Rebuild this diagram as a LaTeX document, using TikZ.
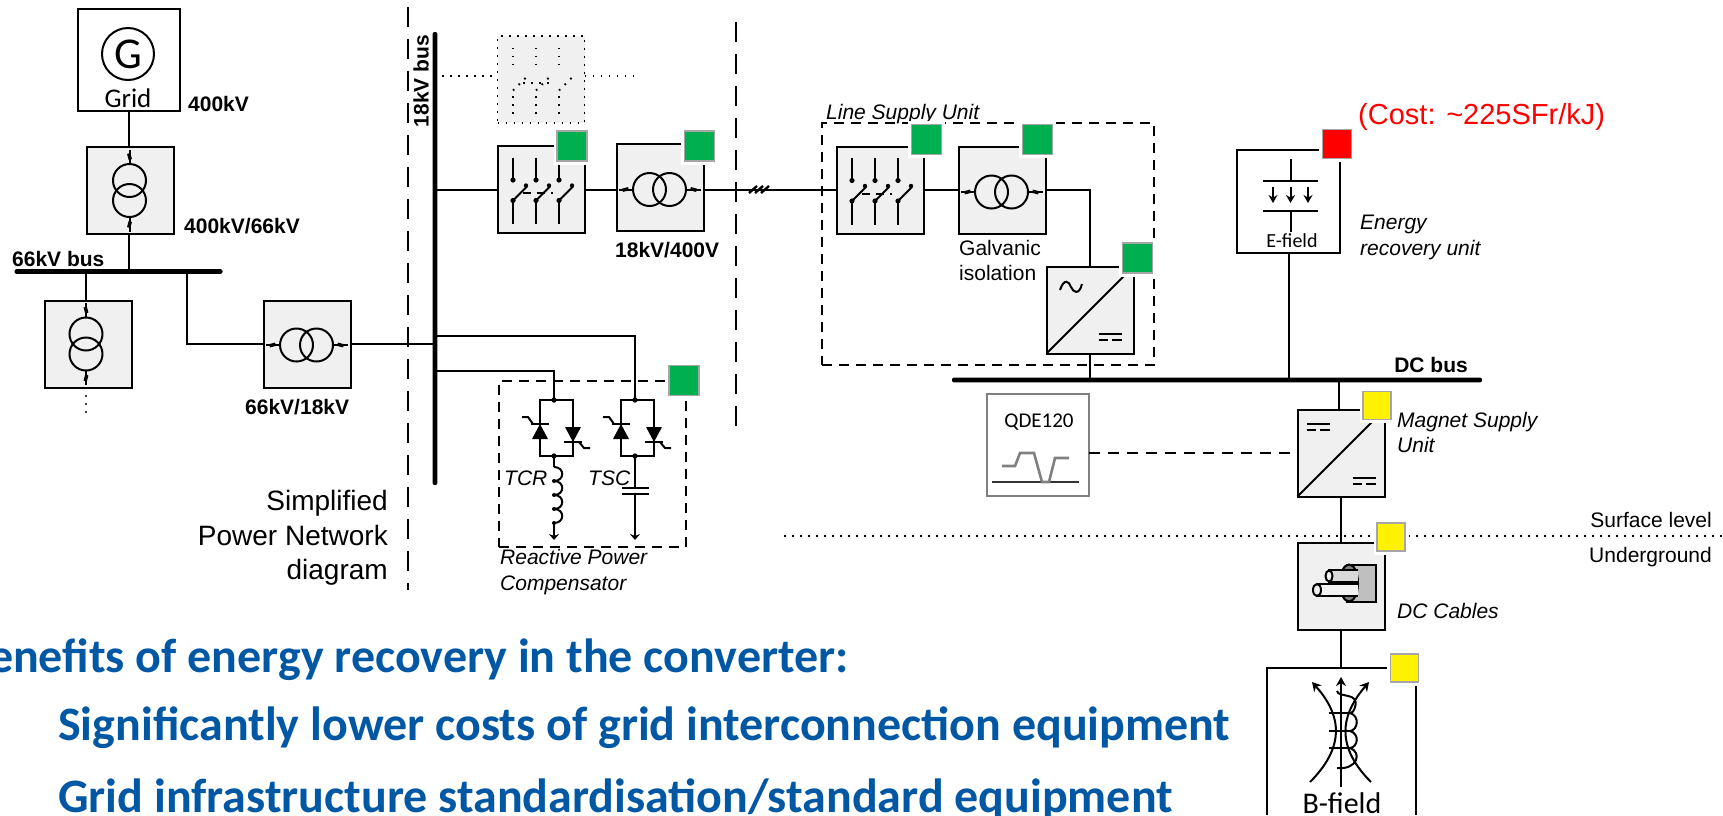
\documentclass[tikz,border=0pt]{standalone}
\usepackage{xcolor}
\usepackage{fontspec}
\setmainfont{Liberation Sans}
\newfontfamily\carlito{Carlito}
\usetikzlibrary{arrows.meta,positioning,calc}

\definecolor{boxgray}{HTML}{F0F0F0}
\definecolor{tagedge}{HTML}{A6A6A6}
\definecolor{taggreen}{HTML}{00B050}
\definecolor{slideblue}{HTML}{0057A4}

\tikzset{
    wire/.style={line width=2pt},
    unitbox/.style={draw, line width=2pt, fill=boxgray, minimum size=87pt, inner sep=0pt, outer sep=0pt},
    plainbox/.style={draw, line width=2pt, fill=white, minimum size=102pt, inner sep=0pt, outer sep=0pt},
    busbar/.style={fill=black, rounded corners=2pt, inner sep=0pt, outer sep=0pt},
    statustag/.style={draw=tagedge, line width=1.6pt, fill=#1, minimum size=28pt, inner sep=0pt, outer sep=0pt,
        preaction={draw=white, line width=7pt}},
    sepline/.style={line width=2.2pt, dash pattern=on 20pt off 12pt},
    areabox/.style={line width=2pt, dash pattern=on 10pt off 7pt},
    ctrlline/.style={line width=2pt, dash pattern=on 11pt off 8pt},
    dotline/.style={line width=1.7pt, dash pattern=on 1.7pt off 6.3pt},
    txt/.style={inner sep=0pt, font=\fontsize{21}{25.5}\selectfont},
    txtit/.style={inner sep=0pt, font=\fontsize{21}{25.5}\selectfont\itshape},
    txtbf/.style={inner sep=0pt, font=\fontsize{21}{25}\selectfont\bfseries},
    slidetxt/.style={inner sep=0pt, text=slideblue, font=\fontsize{48}{56}\selectfont\carlito\bfseries},
    breakerlink/.style={dash pattern=on 8pt off 6pt},
    breakerdot/.style={},
    trafo/.pic={
        \draw[wire] (0,-10) circle[radius=16.5pt];
        \draw[wire] (0,10) circle[radius=16.5pt];
        \foreach \s in {-1,1} {
            \draw[wire] (0,\s*41) -- (0,\s*27);
            \draw[line width=3.4pt] (-0.8,\s*37) -- (0.8,\s*31);
        }
    },
    breaker/.pic={
        \foreach \p in {-28,-5,18} {
            \draw[wire] (\p,-32) -- (\p,-9.5);
            \fill[breakerdot] (\p,-9.5) circle[radius=2.6pt];
            \fill[breakerdot] (\p,11) circle[radius=2.6pt];
            \draw[wire] (\p,34.5) -- (\p,11);
            \draw[wire] (\p,11) -- (\p+14,-3);
            \fill[breakerdot] (\p+13,-4) circle[radius=2.2pt];
        }
        \draw[wire, breakerlink] (-18,3.5) -- (12,3.5);
    },
    dcmark/.pic={
        \draw[wire] (-11.5,-3.5) -- (11.5,-3.5);
        \draw[wire, dash pattern=on 9.5pt off 4pt] (-11.5,3) -- (11.5,3);
    },
    thyristors/.pic={
        \draw[line width=2.2pt] (-14,0) rectangle (19,56);
        \fill (0,0) circle[radius=2.7pt];
        \fill (0,56) circle[radius=2.7pt];
        \fill (-14,24) -- (-22,39) -- (-6,39) -- cycle;
        \draw[wire] (-23,24) -- (-5,24);
        \draw[wire] (-32,17) -- (-26,17) -- (-21,24);
        \fill (19,42) -- (11,27) -- (27,27) -- cycle;
        \draw[wire] (10,42) -- (28,42);
        \draw[wire] (25,42) -- (30,48) -- (36,48);
    }
}

\begin{document}
\begin{tikzpicture}[x=1pt, y=-1pt]
    \useasboundingbox (0,0) rectangle (1723,815);

    % Separators and ghost feeder
    \coordinate (sepAtop) at (408,7);
    \coordinate (sepAend) at (408,590);
    \coordinate (sepBtop) at (736,22);
    \coordinate (sepBend) at (736,428);
    \coordinate (surfL) at (784,536);
    \coordinate (surfR) at (1723,536);
    \draw[sepline] (sepAtop) -- (sepAend);
    \draw[sepline] (sepBtop) -- (sepBend);
    \draw[dotline] (surfL) -- (surfR);

    % Buses
    \node[busbar, minimum width=208pt, minimum height=4.8pt] (busSixtySix) at (118.5,271.5) {};
    \node[busbar, minimum width=4.8pt, minimum height=453pt] (busEighteen) at (435,258.5) {};
    \node[busbar, minimum width=530pt, minimum height=4.8pt] (busDC) at (1217,380) {};
    \node[txtbf, anchor=west] (lblSixtySix) at (12,259) {66kV bus};
    \node[txtbf, rotate=90] (lblEighteen) at (421,81) {18kV bus};
    \node[txtbf, anchor=east] (lblDC) at (1468,365) {DC bus};

    % Grid side
    \node[plainbox] (gridBox) at (129,60) {};
    \node[unitbox] (trafoA) at (130.5,190.5) {};
    \node[unitbox] (trafoB) at (88,344) {};
    \node[unitbox] (trafoC) at (307,344) {};
    \draw[wire] (gridBox.south) -- (gridBox.south |- trafoA.north);
    \draw[wire] (gridBox.south |- trafoA.south) -- (gridBox.south |- busSixtySix.center);
    \coordinate (tapB) at (86,271.5);
    \coordinate (tapC) at (187,271.5);
    \draw[wire] (tapB) -- (tapB |- trafoB.north);
    \draw[wire] (tapC) |- (trafoC.west);
    \draw[wire] (trafoC.east) -- (trafoC.east -| busEighteen.center);
    \pic at ($(trafoA.center)+(-1,0)$) {trafo};
    \pic at ($(trafoB.center)+(-2,0)$) {trafo};
    \pic[rotate=90] at ($(trafoC.center)+(-0.5,1)$) {trafo};
    \node[circle, draw, line width=2pt, minimum size=52pt, inner sep=0pt, font=\fontsize{44}{44}\selectfont\carlito] (genG) at (128,54) {G};
    \node[inner sep=0pt, font=\fontsize{27}{30}\selectfont\carlito] (lblGrid) at (128,98) {Grid};
    \node[txtbf, anchor=west] (lblA) at (188,104) {400kV};
    \node[txtbf, anchor=west] (lblB) at (184,226) {400kV/66kV};
    \node[txtbf, anchor=west] (lblC) at (245,407) {66kV/18kV};
    \foreach \i in {396,404,412} {
        \fill (86,\i) circle[radius=1.2pt];
    }
    \node[txt, anchor=east, align=right, font=\fontsize{28}{34.3}\selectfont] (lblNetwork) at (388,538) {Simplified\\Power Network\\diagram};

    % Ghost breaker
    \node[unitbox, dotline] (ghostBox) at (541,79.5) {};
    \coordinate (ghostFeed) at (442,76);
    \coordinate (ghostEnd) at (635,76);
    \draw[dotline] (ghostFeed) -- (ghostBox.west |- ghostFeed);
    \draw[dotline] (ghostBox.east |- ghostEnd) -- (ghostEnd);
    \pic[dotline, breakerlink/.style={}, breakerdot/.style={opacity=0}] at (ghostBox.center) {breaker};

    % 18kV feeder
    \node[unitbox] (breakerA) at (541,189.5) {};
    \node[unitbox] (trafoD) at (660,187.5) {};
    \node[unitbox] (breakerB) at (880,190) {};
    \node[unitbox] (trafoE) at (1002,190) {};
    \pic at (breakerA.center) {breaker};
    \pic at (breakerB.center) {breaker};
    \pic[rotate=90] at ($(trafoD.center)+(-0.5,2)$) {trafo};
    \pic[rotate=90] at ($(trafoE.center)+(-0.5,2)$) {trafo};
    \draw[wire] (busEighteen.center |- breakerA.west) -- (breakerA.west);
    \draw[wire] (breakerA.east) -- (breakerA.east -| trafoD.west);
    \draw[wire] (trafoD.east |- breakerA.east) -- (breakerB.west |- breakerA.east);
    \foreach \i in {749,755,761} {
        \draw[line width=2.4pt] (\i,193) -- (\i+8,186);
    }
    \node[txtbf, anchor=west] (lblD) at (615,250) {18kV/400V};

    % Line supply unit
    \node[draw, areabox, minimum width=332pt, minimum height=242pt, inner sep=0pt, outer sep=0pt] (lsuBox) at (988,244) {};
    \node[txtit, anchor=west] (lblLsu) at (826,114.5) {Line Supply Unit};
    \node[unitbox] (converterA) at (1090,310) {};
    \coordinate (lsuBend) at (1090,190);
    \draw[wire] (breakerB.east) -- (trafoE.west);
    \draw[wire] (trafoE.east) -- (lsuBend) -- (converterA.north);
    \draw[wire] (converterA.south) -- (converterA.south |- busDC.center);
    \draw[wire] (converterA.south west) -- (converterA.north east);
    \draw[wire] (1060,290) .. controls (1064,278) and (1069,281) .. (1071,287) .. controls (1073,292) and (1079,296) .. (1082,284);
    \pic at (1110,337) {dcmark};
    \node[txt, anchor=north west, align=left] (lblIso) at (959,240) {Galvanic\\isolation};

    % Energy recovery unit
    \node[plainbox, minimum size=103pt] (efieldBox) at (1288.5,201) {};
    \draw[wire] (efieldBox.south) -- (efieldBox.south |- busDC.center);
    \coordinate (capTop) at (1290.5,159);
    \coordinate (capBot) at (1290.5,232);
    \draw[wire] (capTop) -- (1290.5,181);
    \draw[wire] (1290.5,211) -- (capBot);
    \draw[wire] (1263,181) -- (1318,181);
    \draw[wire] (1263,211) -- (1318,211);
    \foreach \i in {1273,1290.5,1308} {
        \draw[wire, -{Stealth[length=8pt,width=9pt]}] (\i,187) -- (\i,203);
    }
    \node[inner sep=0pt, fill=white, font=\fontsize{20}{24}\selectfont\carlito] (lblEfield) at (1292,241) {E-field};
    \node[txtit, anchor=north west, align=left] (lblEnergy) at (1360,215) {Energy\\recovery unit};
    \node[anchor=west, inner sep=0pt, text=red, font=\fontsize{29}{34}\selectfont] (lblCost) at (1358,117) {(Cost: \char`\~225SFr/kJ)};

    % Magnet supply and QDE120
    \node[plainbox, draw=black!50] (qdeBox) at (1037.5,445) {};
    \node[unitbox] (converterB) at (1341,453) {};
    \draw[wire] (1339,380) -- (1339,409);
    \draw[ctrlline] (qdeBox.east |- converterB.west) -- (converterB.west);
    \draw[wire] (converterB.south west) -- (converterB.north east);
    \pic at (1318,427) {dcmark};
    \pic at (1364,481) {dcmark};
    \node[inner sep=0pt, font=\fontsize{21}{24}\selectfont\carlito] (lblQde) at (1039,422) {QDE120};
    \draw[line width=2pt, black!80] (992,482) -- (1079,482);
    \draw[line width=2.6pt, black!50] (1002,466) -- (1015,466) -- (1020,453) -- (1034,453) -- (1042,482) -- (1049,482) -- (1055,458) -- (1069,458);
    \node[txtit, anchor=north west, align=left] (lblMagnet) at (1397,412) {Magnet Supply\\Unit};

    % DC cables
    \node[unitbox] (cableBox) at (1341,586) {};
    \draw[wire] (converterB.south) -- (cableBox.north);
    \draw[wire, fill=black!25] (1347,565) rectangle (1376,602);
    \draw[wire, fill=black!50] (1349,583) ellipse[x radius=9pt, y radius=18.5pt];
    \draw[wire, fill=black!15] (1358,570) -- (1329,570) -- (1329,582) -- (1358,582);
    \draw[wire, fill=black!5] (1358,584) -- (1317,584) -- (1317,596) -- (1358,596);
    \draw[wire, fill=black!5] (1329,576) ellipse[x radius=3.5pt, y radius=5.5pt];
    \draw[wire, fill=black!5] (1317,590) ellipse[x radius=4pt, y radius=6pt];
    \node[txtit, anchor=west] (lblCables) at (1397,611) {DC Cables};
    \node[txt, anchor=east] (lblSurface) at (1712,520) {Surface level};
    \node[txt, anchor=east] (lblUnder) at (1712,557) {Underground};

    % B-field
    \coordinate (magTL) at (1267,668);
    \coordinate (magTR) at (1416,668);
    \coordinate (magBL) at (1267,815);
    \coordinate (magBR) at (1416,815);
    \draw[line width=2pt] (magBL) -- (magTL) -- (magTR) -- (magBR);
    \draw[wire] (cableBox.south) -- (cableBox.south |- magTL);
    \draw[wire, -{Stealth[length=9pt,width=10pt]}] (1341,787) -- (1341,677);
    \draw[wire, -{Stealth[length=9pt,width=10pt]}] (1310,782) .. controls (1350,742) and (1337,710) .. (1312,682);
    \draw[wire, -{Stealth[length=9pt,width=10pt]}] (1371,782) .. controls (1331,742) and (1345,710) .. (1369,682);
    \foreach \i in {713,731,748} {
        \draw[line width=2.6pt] (1329,\i) -- (1350,\i);
    }
    \draw[wire] (1337,691) .. controls (1338,698) and (1360,692) .. (1355,707) .. controls (1353,714) and (1350,713) .. (1350,713)
        .. controls (1360,716) and (1358,730) .. (1350,731) .. controls (1360,734) and (1358,747) .. (1350,748)
        .. controls (1362,752) and (1358,770) .. (1337,768);
    \node[inner sep=0pt, font=\fontsize{30}{34}\selectfont\carlito] (lblBfield) at (1342,803) {B-field};

    % Reactive power compensator
    \node[draw, areabox, minimum width=187pt, minimum height=166pt, inner sep=0pt, outer sep=0pt] (rpcBox) at (592.5,464) {};
    \coordinate (tcrFeed) at (435,371);
    \coordinate (tscFeed) at (435,336);
    \coordinate (tcrTop) at (554,400);
    \coordinate (tscTop) at (635,400);
    \coordinate (tcrBot) at (554,456);
    \coordinate (tscBot) at (635,456);
    \coordinate (tcrEnd) at (554,540);
    \coordinate (tscEnd) at (635,540);
    \draw[wire] (tcrFeed) -| (tcrTop);
    \draw[wire] (tscFeed) -| (tscTop);
    \pic at (tcrTop) {thyristors};
    \pic at (tscTop) {thyristors};
    \draw[wire] (tcrBot) -- (554,467);
    \foreach \i in {467,481,495,509} {
        \draw[wire] (554,\i) .. controls (565,\i) and (565,\i+14) .. (554,\i+14);
        \fill (554,\i+14) circle[radius=2pt];
    }
    \draw[wire, -{Stealth[length=6pt,width=10pt]}] (554,523) -- (tcrEnd);
    \draw[wire] (tscBot) -- (635,488);
    \draw[wire] (622,488) -- (649,488);
    \draw[wire] (622,494) -- (649,494);
    \draw[wire, -{Stealth[length=6pt,width=10pt]}] (635,494) -- (tscEnd);
    \node[txtit, anchor=west] (lblTcr) at (504,478) {TCR};
    \node[txtit, anchor=west] (lblTsc) at (588,478) {TSC};
    \node[txtit, anchor=north west, align=left] (lblRpc) at (500,549.5) {Reactive Power\\Compensator};

    % Status tags
    \node[statustag=taggreen, minimum size=30pt] (tagA) at (572,146) {};
    \node[statustag=taggreen, minimum size=30pt] (tagB) at (699.5,146) {};
    \node[statustag=taggreen, minimum size=30pt] (tagC) at (926.5,139.5) {};
    \node[statustag=taggreen, minimum size=30pt] (tagD) at (1037.5,139.5) {};
    \node[statustag=taggreen, minimum size=30pt] (tagE) at (1137.5,258) {};
    \node[statustag=taggreen, minimum size=30pt] (tagF) at (684,380.5) {};
    \node[statustag=red, minimum size=29pt] (tagG) at (1337,144) {};
    \node[statustag=yellow] (tagH) at (1377,405.5) {};
    \node[statustag=yellow] (tagI) at (1391,537) {};
    \node[statustag=yellow] (tagJ) at (1404.5,668) {};

    % Slide text
    \node[slidetxt, anchor=east] (txtBenefits) at (849,660) {Benefits of energy recovery in the converter:};
    \node[slidetxt, anchor=west] (txtCosts) at (58,728) {Significantly lower costs of grid interconnection equipment};
    \node[slidetxt, anchor=west] (txtInfra) at (58,799) {Grid infrastructure standardisation/standard equipment};
\end{tikzpicture}
\end{document}
